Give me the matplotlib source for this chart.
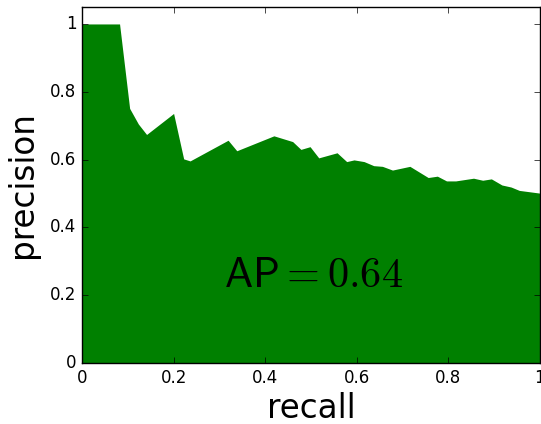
import matplotlib
matplotlib.use('Agg')
import matplotlib.pyplot as plt
import numpy as np

plt.style.use('classic')
plt.rcParams['mathtext.fontset'] = 'cm'

# precision / recall curve
recall = [0.0, 0.082, 0.104, 0.123, 0.141, 0.200, 0.222, 0.236, 0.319, 0.338,
          0.419, 0.460, 0.478, 0.498, 0.517, 0.557, 0.578, 0.594, 0.616, 0.637,
          0.656, 0.678, 0.716, 0.756, 0.776, 0.796, 0.816, 0.855, 0.875, 0.894,
          0.917, 0.937, 0.955, 1.0]
precision = [1.0, 1.0, 0.751, 0.705, 0.674, 0.736, 0.602, 0.596, 0.657, 0.626,
             0.670, 0.653, 0.630, 0.638, 0.605, 0.620, 0.594, 0.599, 0.594, 0.582,
             0.580, 0.569, 0.580, 0.547, 0.551, 0.537, 0.537, 0.545, 0.539, 0.543,
             0.525, 0.519, 0.509, 0.501]
ap = 0.64

fig = plt.figure(figsize=(5.41, 4.24), dpi=100, facecolor='white')
ax = fig.add_axes([0.1516, 0.1439, 0.8464, 0.8396])

ax.fill_between(recall, 0, precision, color='g', linewidth=0)
ax.text(0.505, 0.26, r'$\mathsf{AP} = %.2f$' % ap, fontsize=30.5,
        ha='center', va='center')

ax.set_xlim(0, 1)
ax.set_ylim(0, 1.05)
ax.set_xticks([0, 0.2, 0.4, 0.6, 0.8, 1])
ax.set_xticklabels(['0', '0.2', '0.4', '0.6', '0.8', '1'])
ax.set_yticks([0, 0.2, 0.4, 0.6, 0.8, 1])
ax.set_yticklabels(['0', '0.2', '0.4', '0.6', '0.8', '1'])
ax.tick_params(labelsize=12)
ax.set_xlabel('recall', fontsize=23.5, labelpad=4)
ax.set_ylabel('precision', fontsize=23.5, labelpad=8)

fig.savefig('out.png', dpi=100, facecolor='white')
